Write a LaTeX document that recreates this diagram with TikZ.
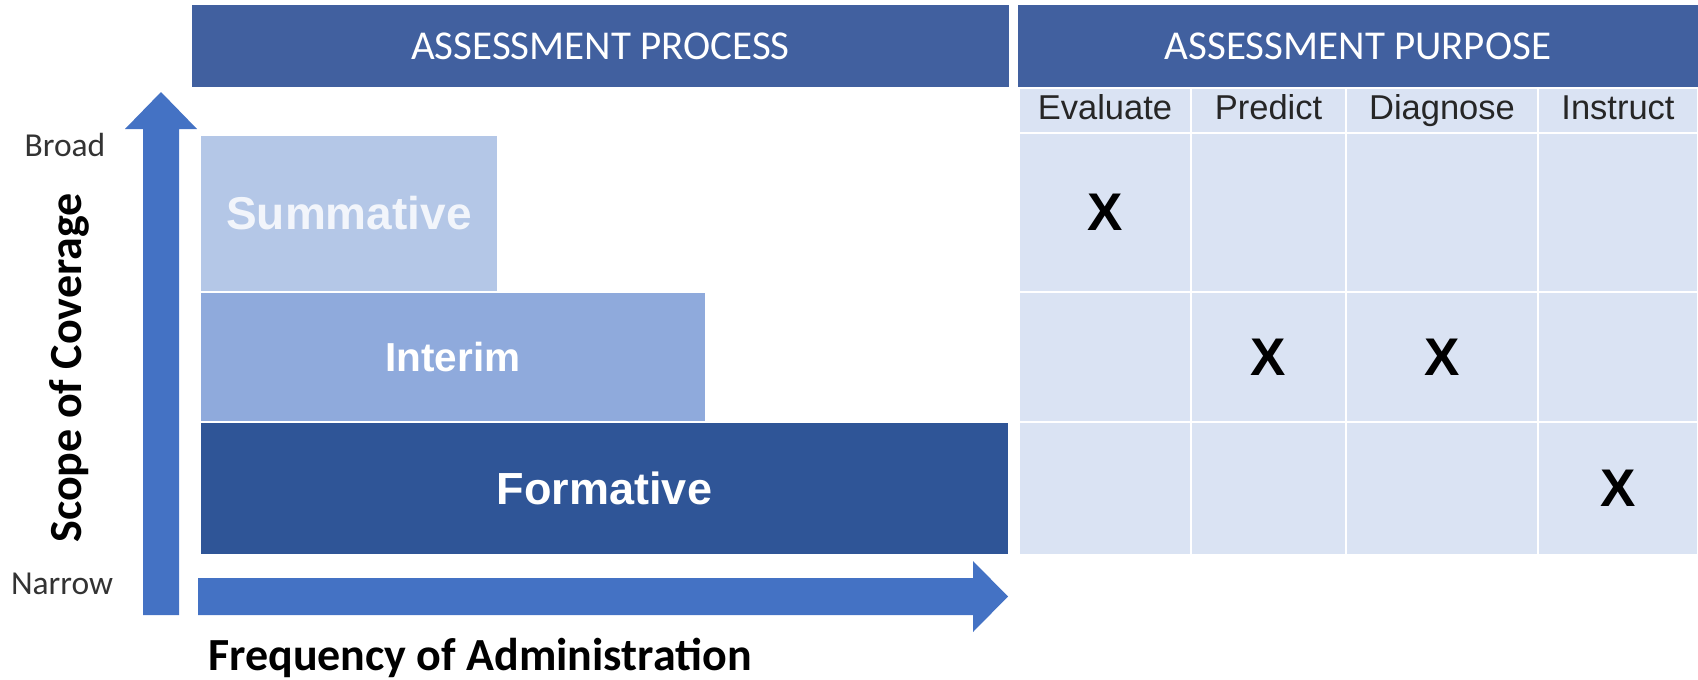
\documentclass[tikz,border=0pt]{standalone}
\usepackage{fontspec}
\setmainfont{Liberation Sans}
\newfontfamily\calib{Carlito}
\begin{document}
\begin{tikzpicture}[x=1pt,y=-1pt]
\definecolor{hdrblue}{HTML}{41609F}
\definecolor{arrowblue}{HTML}{4472C4}
\definecolor{summblue}{HTML}{B4C7E7}
\definecolor{interblue}{HTML}{8FAADC}
\definecolor{formblue}{HTML}{2F5597}
\definecolor{cellblue}{HTML}{DAE3F3}
\definecolor{summtext}{HTML}{F2F5FB}
\tikzset{
  hdrbox/.style={fill=hdrblue, text=white, inner sep=0pt, font=\calib\fontsize{41}{45}\selectfont},
  levelbox/.style={draw=white, line width=1.5pt, inner sep=0pt, text=white},
  cell/.style={fill=cellblue, draw=white, line width=2pt, inner sep=0pt},
  colhead/.style={cell, font=\fontsize{34.5}{38}\selectfont, text=black!85, text height=25pt, text depth=7pt},
  xcell/.style={cell, font=\bfseries\fontsize{53}{58}\selectfont},
  axislabel/.style={font=\calib\fontsize{33.5}{37}\selectfont, text=black!80},
  axistitle/.style={font=\calib\bfseries\fontsize{46}{50}\selectfont, text=black}
}
\useasboundingbox (0,0) rectangle (1698,680);

% header bands
\node[hdrbox, minimum width=817pt, minimum height=82pt] (process) at (600.5,46) {ASSESSMENT PROCESS};
\node[hdrbox, minimum width=680pt, minimum height=82pt] (purpose) at (1358,46) {ASSESSMENT PURPOSE};

% axis arrows
\fill[arrowblue] (143,615) -- (179,615) -- (179,129) -- (197,129) -- (161,92) -- (125,129) -- (143,129) -- cycle;
\fill[arrowblue] (198,578) -- (973,578) -- (973,561) -- (1008,596.5) -- (973,632) -- (973,615) -- (198,615) -- cycle;

% assessment levels
\node[levelbox, fill=summblue, text=summtext, font=\bfseries\fontsize{46}{50}\selectfont,
  minimum width=298pt, minimum height=157pt] (summative) at (349,213.5) {Summative};
\node[levelbox, fill=interblue, font=\bfseries\fontsize{40.5}{45}\selectfont,
  minimum width=506pt, minimum height=130pt] (interim) at (453,357) {Interim};
\node[levelbox, fill=formblue, font=\bfseries\fontsize{45}{50}\selectfont,
  minimum width=809pt, minimum height=133pt] (formative) at (604.5,488.5) {Formative};

% purpose grid: column headings
\node[colhead, minimum width=172pt, minimum height=45pt] (hEval) at (1105,110.5) {Evaluate};
\node[colhead, minimum width=155pt, minimum height=45pt] (hPred) at (1268.5,110.5) {Predict};
\node[colhead, minimum width=192pt, minimum height=45pt] (hDiag) at (1442,110.5) {Diagnose};
\node[colhead, minimum width=160pt, minimum height=45pt] (hInst) at (1618,110.5) {Instruct};

% purpose grid: summative row
\node[xcell, minimum width=172pt, minimum height=159pt] (s1) at (1105,212.5) {X};
\node[xcell, minimum width=155pt, minimum height=159pt] (s2) at (1268.5,212.5) {};
\node[xcell, minimum width=192pt, minimum height=159pt] (s3) at (1442,212.5) {};
\node[xcell, minimum width=160pt, minimum height=159pt] (s4) at (1618,212.5) {};

% purpose grid: interim row
\node[xcell, minimum width=172pt, minimum height=130pt] (i1) at (1105,357) {};
\node[xcell, minimum width=155pt, minimum height=130pt] (i2) at (1268.5,357) {X};
\node[xcell, minimum width=192pt, minimum height=130pt] (i3) at (1442,357) {X};
\node[xcell, minimum width=160pt, minimum height=130pt] (i4) at (1618,357) {};

% purpose grid: formative row
\node[xcell, minimum width=172pt, minimum height=133pt] (f1) at (1105,488.5) {};
\node[xcell, minimum width=155pt, minimum height=133pt] (f2) at (1268.5,488.5) {};
\node[xcell, minimum width=192pt, minimum height=133pt] (f3) at (1442,488.5) {};
\node[xcell, minimum width=160pt, minimum height=133pt] (f4) at (1618,488.5) {X};

% axis labels
\node[axislabel] (broad) at (65,145) {Broad};
\node[axislabel] (narrow) at (62,584) {Narrow};
\node[axistitle, rotate=90] (scope) at (69,368) {Scope of Coverage};
\node[axistitle, anchor=base] (freq) at (480,670) {Frequency of Administration};
\end{tikzpicture}
\end{document}
